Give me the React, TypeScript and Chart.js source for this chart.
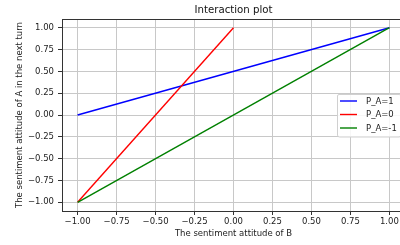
import React, { useEffect, useRef } from "react";
import { Chart, registerables } from "chart.js";

Chart.register(...registerables);

const seriesLabels = ["P_A=1", "P_A=0", "P_A=-1"];
const seriesColors = ["#0000ff", "#ff0000", "#008000"];
const xPA1 = [-1, 1];
const yPA1 = [0, 1];
const xPA0 = [-1, 0];
const yPA0 = [-1, 1];
const xPAm1 = [-1, 1];
const yPAm1 = [-1, 1];
const xTicks = [-1, -0.75, -0.5, -0.25, 0, 0.25, 0.5, 0.75, 1];
const yTicks = [-1, -0.75, -0.5, -0.25, 0, 0.25, 0.5, 0.75, 1];
const titleText = "Interaction plot";
const xTitle = "The sentiment attitude of B";
const yTitle = "The sentiment attitude of A in the next turn";

const FONT = "'DejaVu Sans', sans-serif";
const fmt = (v: number) => {
  const s = Math.abs(v).toFixed(2);
  return v < 0 ? "\u2212" + s : s;
};

const zip = (xs: number[], ys: number[]) => xs.map((x, i) => ({ x, y: ys[i] }));

const framePlugin = {
  id: "frame",
  afterDraw(chart: any) {
    const { ctx, chartArea: a } = chart;
    ctx.save();
    // top spine
    ctx.strokeStyle = "#333";
    ctx.lineWidth = 1;
    ctx.beginPath();
    ctx.moveTo(a.left, a.top + 0.5);
    ctx.lineTo(a.right, a.top + 0.5);
    ctx.stroke();
    // title
    ctx.fillStyle = "#111";
    ctx.font = `10.2px ${FONT}`;
    ctx.textAlign = "center";
    ctx.textBaseline = "middle";
    ctx.fillText(titleText, (a.left + a.right) / 2, 10);
    // legend
    const bx = 337, by = 94, bw = 64, bh = 43;
    ctx.fillStyle = "rgba(255,255,255,0.85)";
    ctx.strokeStyle = "#d0d0d0";
    ctx.lineWidth = 1;
    ctx.beginPath();
    const r = 2;
    ctx.moveTo(bx + r, by + 0.5);
    ctx.lineTo(bx + bw - r, by + 0.5);
    ctx.quadraticCurveTo(bx + bw, by + 0.5, bx + bw, by + r);
    ctx.lineTo(bx + bw, by + bh - r);
    ctx.quadraticCurveTo(bx + bw, by + bh, bx + bw - r, by + bh);
    ctx.lineTo(bx + 0.5 + r, by + bh);
    ctx.quadraticCurveTo(bx + 0.5, by + bh, bx + 0.5, by + bh - r);
    ctx.lineTo(bx + 0.5, by + r);
    ctx.quadraticCurveTo(bx + 0.5, by + 0.5, bx + r, by + 0.5);
    ctx.fill();
    ctx.stroke();
    ctx.font = `8.5px ${FONT}`;
    ctx.textAlign = "left";
    chart.data.datasets.forEach((ds: any, i: number) => {
      const yy = 101 + i * 13.5;
      ctx.strokeStyle = ds.borderColor;
      ctx.lineWidth = 1.4;
      ctx.beginPath();
      ctx.moveTo(340, yy);
      ctx.lineTo(357, yy);
      ctx.stroke();
      ctx.fillStyle = "#222";
      ctx.fillText(ds.label, 366, yy + 0.5);
    });
    ctx.restore();
  },
};

export default function App() {
  const ref = useRef<HTMLCanvasElement>(null);
  useEffect(() => {
    document.body.style.margin = "0";
    document.body.style.overflow = "hidden";
    const xsList = [xPA1, xPA0, xPAm1];
    const ysList = [yPA1, yPA0, yPAm1];
    const chart = new Chart(ref.current!, {
      type: "scatter",
      data: {
        datasets: seriesLabels.map((label, i) => ({
          label,
          data: zip(xsList[i], ysList[i]),
          showLine: true,
          borderColor: seriesColors[i],
          backgroundColor: seriesColors[i],
          borderWidth: 1.4,
          pointRadius: 0,
          order: 2 - i,
        })),
      },
      options: {
        animation: false,
        responsive: false,
        layout: { padding: { top: 19, right: 0, left: 0, bottom: 0 } },
        plugins: {
          legend: { display: false },
          title: { display: false },
          tooltip: { enabled: false },
        },
        scales: {
          x: {
            type: "linear",
            min: -1.1,
            max: 1.1,
            afterBuildTicks: (s: any) => {
              s.ticks = xTicks.map((v) => ({ value: v }));
            },
            afterFit: (s: any) => {
              s.height = 34;
            },
            ticks: {
              callback: (v: any) => fmt(Number(v)),
              color: "#222",
              font: { family: FONT, size: 8.5 },
              padding: 2,
              maxRotation: 0,
              autoSkip: false,
            },
            grid: {
              color: "#c8c8c8",
              lineWidth: 1,
              tickColor: "#333",
              tickLength: 4,
            },
            border: { color: "#333", width: 1 },
            title: {
              display: true,
              text: xTitle,
              color: "#222",
              font: { family: FONT, size: 8.5 },
              padding: { top: 0, bottom: 6 },
            },
          },
          y: {
            type: "linear",
            min: -1.1,
            max: 1.1,
            afterBuildTicks: (s: any) => {
              s.ticks = yTicks.map((v) => ({ value: v }));
            },
            afterFit: (s: any) => {
              s.width = 62;
            },
            ticks: {
              callback: (v: any) => fmt(Number(v)),
              color: "#222",
              font: { family: FONT, size: 8.5 },
              padding: 4,
              autoSkip: false,
            },
            grid: {
              color: "#c8c8c8",
              lineWidth: 1,
              tickColor: "#333",
              tickLength: 4,
            },
            border: { color: "#333", width: 1 },
            title: {
              display: true,
              text: yTitle,
              color: "#222",
              font: { family: FONT, size: 8.5 },
              padding: { top: 15, bottom: 0 },
            },
          },
        },
      },
      plugins: [framePlugin],
    });
    return () => chart.destroy();
  }, []);
  return (
    <div style={{ position: "fixed", left: 0, top: 0, width: 405, height: 245 }}>
      <canvas ref={ref} width={405} height={245} style={{ width: 405, height: 245 }} />
    </div>
  );
}
